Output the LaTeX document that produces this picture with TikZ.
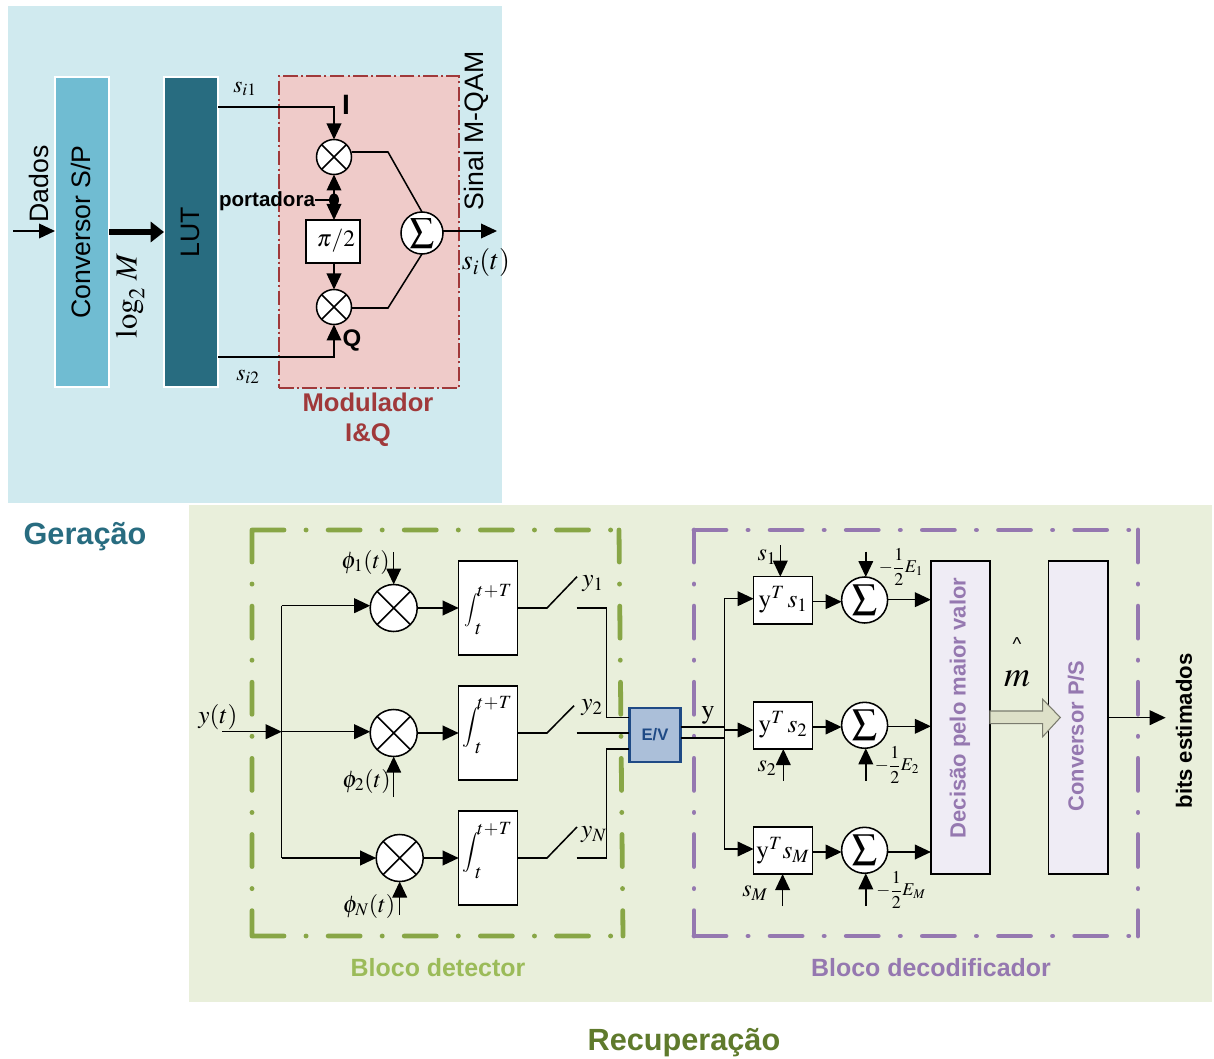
\documentclass[tikz,border=0pt]{standalone}
\usepackage{mathptmx}
\usepackage[no-math]{fontspec}
\setmainfont{Liberation Sans}
\usetikzlibrary{arrows.meta,calc,shapes.arrows}
\definecolor{topbg}{HTML}{D0EAEF}
\definecolor{botbg}{HTML}{E9EFDB}
\definecolor{convcol}{HTML}{70BCD2}
\definecolor{lutcol}{HTML}{286C80}
\definecolor{modfill}{HTML}{EFCBC9}
\definecolor{modline}{HTML}{A0393A}
\definecolor{detcol}{HTML}{88A646}
\definecolor{dettxt}{HTML}{9BBB59}
\definecolor{deccol}{HTML}{9578B0}
\definecolor{decfill}{HTML}{EFECF5}
\definecolor{evfill}{HTML}{ABBFD9}
\definecolor{evline}{HTML}{1F4A85}
\definecolor{recup}{HTML}{5F7A2C}
\definecolor{bigarr}{HTML}{DDE0C8}
\newcommand{\fs}[1]{\fontsize{#1}{#1}\selectfont}
\newcommand{\bx}[6]{\node[#2,inner sep=0pt,outer sep=0pt,minimum width={(#5-#3)*0.75pt},minimum height={(#6-#4)*0.75pt}] (#1) at ({(#3+#5)/2},{(#4+#6)/2}) {};}
\newcommand{\mult}[4]{%
  \node[circ,minimum size={2*#4*0.75pt}] (#1) at (#2,#3) {};
  \draw[wire] (#1.45)--(#1.225) (#1.135)--(#1.-45);}
\newcommand{\summer}[5]{\node[circ,minimum size={2*#4*0.75pt},font=\fs{#5}] (#1) at (#2,#3) {$\displaystyle\sum$};}
\newcommand{\integ}[7]{%
  \bx{#1}{wbox}{458.7}{#2}{517.7}{#3}
  \node[lab,font=\fs{#6}] (#1i) at (471.5,#4) {$\displaystyle\int$};
  \node[lab,font=\fs{14}] (#1u) at (494.5,#5) {$t\mkern-2mu+\mkern-2mu T$};
  \node[lab,font=\fs{15}] (#1l) at (478.5,#7) {$t$};}
\tikzset{
  wire/.style={line width=1.15pt,black},
  arr/.style={wire,-{Triangle[length=12pt,width=11pt]}},
  wbox/.style={draw=black,line width=1.15pt,fill=white},
  circ/.style={circle,draw=black,line width=1.15pt,fill=white,inner sep=0pt,outer sep=0pt},
  lab/.style={inner sep=0pt,outer sep=0pt,text=black},
  dd/.style={line width=3.6pt,line cap=round,dash pattern=on 24pt off 16.5pt on 0.1pt off 16.5pt},
}
\begin{document}
\begin{tikzpicture}[x=0.75pt,y=-0.75pt]
\useasboundingbox (0,0) rectangle (1214,1059);
% ---------- backgrounds
\bx{topbgn}{fill=topbg}{8}{6}{502}{503}
\bx{botbgn}{fill=botbg}{189}{505}{1212}{1002}
% ---------- generation
\bx{conv}{fill=convcol,draw=white,line width=1.2pt}{55}{77}{109}{387}
\bx{lut}{fill=lutcol,draw=white,line width=1.2pt}{164}{77}{218}{387}
\bx{modb}{fill=modfill,draw=modline,line width=1.5pt,dash pattern=on 11pt off 2.5pt on 1.5pt off 2.5pt}{279}{76}{459}{388}
\node[lab,font=\fs{20},rotate=90] (convt) at (80.5,232) {Conversor S/P};
\node[lab,font=\fs{20},rotate=90,text=black] (lutt) at (190,232) {LUT};
\node[lab,font=\fs{20},rotate=90] (dados) at (39,184) {Dados};
\node[lab,font=\fs{20},rotate=90] (sinal) at (476,131) {Sinal M-QAM};
\node[lab,font=\fs{23},rotate=90] (logm) at (130,296) {$\log_2\,M$};
\mult{m1}{334}{157}{17.5}
\mult{m2}{334}{307}{17.5}
\bx{pi2}{wbox}{306}{220}{360}{263}
\node[lab,font=\fs{17.5}] (pit) at (336,241) {$\pi/2$};
\summer{s0}{422}{233}{21}{18}
\coordinate (din) at (13,231);
\coordinate (pdot) at (334,200);
\coordinate (r1) at (388,152);
\coordinate (r2) at (388,308);
\coordinate (sout) at (497,231);
\draw[arr] (din) -- (din -| conv.west);
\draw[line width=4.5pt,-{Triangle[length=10pt,width=15pt]}] (conv.east |- 0,232) -- (lut.west |- 0,232);
\draw[arr] (lut.east |- 0,107) -| (m1.north);
\draw[arr] (lut.east |- 0,357) -| (m2.south);
\draw[arr] (pdot) -- (m1.south);
\draw[arr] (pdot) -- (pi2.north -| pdot);
\draw[arr] (pi2.south -| m2) -- (m2.north);
\draw[wire] (m1.east |- r1) -- (r1) -- (s0.north);
\draw[wire] (m2.east |- r2) -- (r2) -- (s0.south);
\draw[arr] (s0.east |- sout) -- (sout);
\node[lab,font=\fs{15.4}\bfseries] (port) at (267,201.5) {portadora};
\draw[wire] (port.east |- pdot) -- (pdot);
\fill (pdot) ellipse[x radius=5,y radius=6.5];
\node[lab,font=\fs{17.5}] (si1) at (245,89) {$s_{i1}$};
\node[lab,font=\fs{17.5}] (si2) at (248,377) {$s_{i2}$};
\node[lab,font=\fs{21}] (sit) at (486,263) {$s_i(t)$};
\node[lab,font=\fs{21}\bfseries] (ilab) at (346,105) {I};
\node[lab,font=\fs{18}\bfseries] (qlab) at (352,340) {Q};
\node[lab,font=\fs{19.2}\bfseries,text=modline] (mod1) at (368,402) {Modulador};
\node[lab,font=\fs{19.2}\bfseries,text=modline] (mod2) at (368,435) {I\&Q};
\node[lab,font=\fs{23}\bfseries,text=lutcol] (ger) at (85,537) {Geração};
\node[lab,font=\fs{23}\bfseries,text=recup] (rec) at (684,1043) {Recuperação};
% ---------- dash-dot frames
\coordinate (ga) at (252,530); \coordinate (gb) at (619,530);
\coordinate (gc) at (252,936); \coordinate (gd) at (623,936);
\draw[dd,detcol] (ga)--(gb) (ga)--(gc) (gc)--(gd) (gb)--(gd);
\coordinate (pa) at (694,530); \coordinate (pb) at (1138,530);
\coordinate (pc) at (694,936); \coordinate (pd) at (1138,936);
\draw[dd,deccol] (pa)--(pb) (pa)--(pc) (pc)--(pd) (pb)--(pd);
\node[lab,font=\fs{18.7}\bfseries,text=dettxt] (bdet) at (438,968) {Bloco detector};
\node[lab,font=\fs{18.7}\bfseries,text=deccol] (bdec) at (931,968) {Bloco decodificador};
% ---------- detector
\mult{d1}{393.7}{608}{23.5}
\mult{d2}{393.7}{733}{23.5}
\mult{d3}{399.7}{858}{23.5}
\integ{i1}{561}{655}{610}{591}{12.5}{629}
\integ{i2}{686}{780}{727}{703}{15}{748}
\integ{i3}{811}{905}{852}{829}{15}{873}
\bx{ev}{fill=evfill,draw=evline,line width=2.2pt}{629.3}{708}{680.7}{762}
\node[lab,font=\fs{12.5}\bfseries,text=evline] (evt) at (ev) {E/V};
\coordinate (yin) at (222,731.7);
\coordinate (jn) at (281.7,731.7);
\coordinate (t1) at (281.7,605.7);
\coordinate (t3) at (281.7,858);
\draw[arr] (yin) -- (jn);
\draw[arr] (jn) -- (jn -| d2.west);
\draw[arr] (t1) -- (t1 -| d1.west);
\draw[arr] (t3) -- (d3.west);
\draw[wire] (t1) -- (t3);
\foreach \m/\b in {d1/i1,d2/i2,d3/i3}{\draw[arr] (\m.east) -- (\m.east -| \b.west);}
% switches
\coordinate (a1) at (547,608); \coordinate (e1) at (577,576.7);
\coordinate (b1) at (576.7,608); \coordinate (k1) at (606.3,608); \coordinate (f1) at (606.3,717.7);
\coordinate (a2) at (547,733); \coordinate (e2) at (574,705.7);
\coordinate (b2) at (576.7,733);
\coordinate (a3) at (547,858); \coordinate (e3) at (577,827);
\coordinate (b3) at (576.7,858); \coordinate (k3) at (606.3,858); \coordinate (f3) at (606.3,749);
\draw[wire] (a1 -| i1.east) -- (a1) -- (e1);
\draw[wire] (a2 -| i2.east) -- (a2) -- (e2);
\draw[wire] (a3 -| i3.east) -- (a3) -- (e3);
\draw[wire] (b1) -- (k1) -- (f1) -- (f1 -| ev.west);
\draw[wire] (b2) -- (b2 -| ev.west);
\draw[wire] (b3) -- (k3) -- (f3) -- (f3 -| ev.west);
% phi arrows
\coordinate (p1) at (393.7,552);
\coordinate (p2) at (393.7,797);
\coordinate (p3) at (399.7,915);
\draw[arr] (p1) -- (d1.north);
\draw[arr] (p2) -- (d2.south);
\draw[arr] (p3) -- (d3.south);
\node[lab,font=\fs{18}] (ph1) at (365.5,562) {$\phi_1(t)$};
\node[lab,font=\fs{18}] (ph2) at (366.5,781) {$\phi_2(t)$};
\node[lab,font=\fs{18}] (ph3) at (369,906) {$\phi_N(t)$};
\node[lab,font=\fs{19}] (ylab) at (218,717) {$y(t)$};
\node[lab,font=\fs{19}] (y1) at (593,584) {$y_1$};
\node[lab,font=\fs{19}] (y2) at (592,708) {$y_2$};
\node[lab,font=\fs{19}] (yn) at (594,835) {$y_N$};
% ---------- decoder
\bx{c1}{wbox}{753.6}{576.7}{812.7}{624}
\bx{c2}{wbox}{753.6}{702}{812.7}{749}
\bx{c3}{wbox}{753.6}{827}{812.7}{874}
\node[lab,font=\fs{19}] (c1t) at (783,600) {$\mathrm{y}^{T}\,s_1$};
\node[lab,font=\fs{19}] (c2t) at (783,725) {$\mathrm{y}^{T}\,s_2$};
\node[lab,font=\fs{19}] (c3t) at (783,851) {$\mathrm{y}^{T}s_M$};
\summer{u1}{864.6}{600}{23}{18.5}
\summer{u2}{864.6}{725.3}{23}{18.5}
\summer{u3}{864.6}{850.3}{23}{18.5}
\bx{dec}{fill=decfill,draw=black,line width=1.15pt}{930.9}{561}{990}{874}
\bx{ps}{fill=decfill,draw=black,line width=1.15pt}{1048.7}{561}{1107.8}{874}
\node[lab,font=\fs{16.5}\bfseries,rotate=90,text=deccol] (dect) at (960,708) {Decisão pelo maior valor};
\node[lab,font=\fs{16.4}\bfseries,rotate=90,text=deccol] (pst) at (1076,736) {Conversor P/S};
\node[lab,font=\fs{16.6}\bfseries,rotate=90] (bits) at (1184,731) {bits estimados};
\coordinate (o1) at (680.7,727); \coordinate (o2) at (680.7,738);
\coordinate (tk) at (724.3,730);
\coordinate (tk1) at (724.3,598.7); \coordinate (tk3) at (724.3,849);
\draw[wire] (o1) -- (o1 -| tk);
\draw[wire] (o2) -- (o2 -| tk);
\draw[wire] (tk1) -- (tk3);
\draw[arr] (tk1) -- (tk1 -| c1.west);
\draw[arr] (tk) -- (tk -| c2.west);
\draw[arr] (tk3) -- (tk3 -| c3.west);
\node[lab,font=\fs{20}] (ylb) at (708,715) {$\mathrm{y}$};
\coordinate (w1) at (812.7,601.7); \coordinate (w2) at (812.7,727); \coordinate (w3) at (812.7,852);
\draw[arr] (w1) -- (w1 -| u1.west);
\draw[arr] (w2) -- (w2 -| u2.west);
\draw[arr] (w3) -- (w3 -| u3.west);
\coordinate (x1) at (887,599.7); \coordinate (x2) at (887,726.3); \coordinate (x3) at (887,852);
\draw[arr] (x1) -- (x1 -| dec.west);
\draw[arr] (x2) -- (x2 -| dec.west);
\draw[arr] (x3) -- (x3 -| dec.west);
\coordinate (q1) at (780.3,545); \coordinate (q2) at (783.3,780.7); \coordinate (q3) at (782.6,906);
\draw[arr] (q1) -- (q1 |- c1.north);
\draw[arr] (q2) -- (q2 |- c2.south);
\draw[arr] (q3) -- (q3 |- c3.south);
\coordinate (v1) at (865.8,551.7); \coordinate (v2) at (865.8,780.7); \coordinate (v3) at (865.8,906);
\draw[arr] (v1) -- (v1 |- u1.north);
\draw[arr] (v2) -- (v2 |- u2.south);
\draw[arr] (v3) -- (v3 |- u3.south);
\node[lab,font=\fs{18}] (s1l) at (767,557) {$s_1$};
\node[lab,font=\fs{18}] (s2l) at (767,768) {$s_2$};
\node[lab,font=\fs{18}] (sml) at (755,893) {$s_M$};
\node[lab,font=\fs{13.5}] (e1l) at (901,567) {$\displaystyle-\frac{1}{2}E_1$};
\node[lab,font=\fs{13.5}] (e2l) at (897,765) {$\displaystyle-\frac{1}{2}E_2$};
\node[lab,font=\fs{13.5}] (e3l) at (901,890) {$\displaystyle-\frac{1}{2}E_M$};
% big arrow
\coordinate (ba) at (990,717.5);
\coordinate (bb) at (1060.3,717.5);
\draw[draw=black!45!bigarr,fill=bigarr,line width=0.8pt]
  (ba |- 0,711) -- (1042.7,711) -- (1042.7,699.3) -- (bb) -- (1042.7,736.7) -- (1042.7,723.7) -- (ba |- 0,723.7) -- cycle;
\node[lab,font=\fs{27}] (mh) at (1017,679) {$m$};
\node[lab,font=\fs{14}] (hat) at (1017,644) {\^{}};
\coordinate (pso) at (1165.7,717.7);
\draw[arr] (ps.east |- pso) -- (pso);
\end{tikzpicture}
\end{document}
